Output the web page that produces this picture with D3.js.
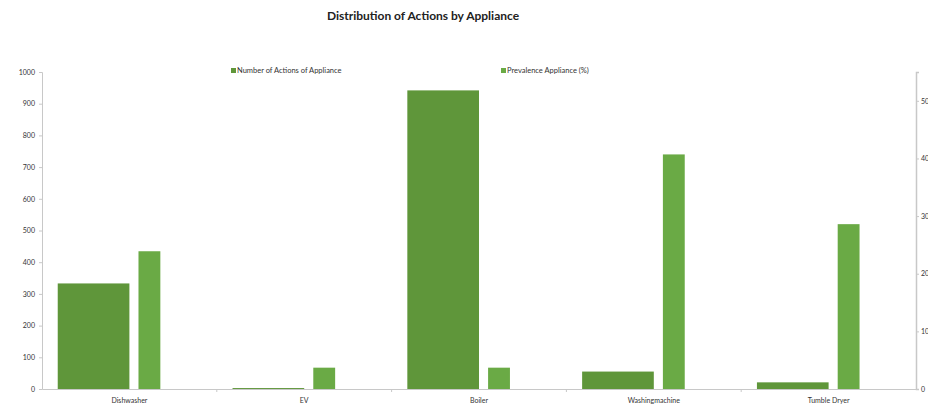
<!DOCTYPE html>
<html>
<head>
<meta charset="utf-8">
<script src="https://cdn.jsdelivr.net/npm/d3@7"></script>
<style>
  body { margin: 0; background: #fff; }
  svg { display: block; font-family: Lato, "Open Sans", sans-serif; }
</style>
</head>
<body>
<div id="chart"></div>
<script>
const appliances = ['Dishwasher', 'EV', 'Boiler', 'Washingmachine', 'Tumble Dryer'];
const actionCounts = [333, 3, 942, 55, 21];
const prevalence = [23.9, 3.7, 3.7, 40.7, 28.6];
const leftTicks = [0, 100, 200, 300, 400, 500, 600, 700, 800, 900, 1000];
const rightTicks = [0, 10, 20, 30, 40, 50];
const seriesNames = ['Number of Actions of Appliance', 'Prevalence Appliance (%)'];

const COUNT_COLOR = '#5f963a';
const PREV_COLOR = '#6aaa45';
const AXIS_COLOR = '#c8c8c8';
const TEXT_COLOR = '#333';

const width = 928;
const height = 407;
const margin = { left: 42, right: 12, top: 72, bottom: 18 };

const svg = d3.select('#chart').append('svg')
  .attr('width', width)
  .attr('height', height);

const x = d3.scaleBand()
  .domain(appliances)
  .range([margin.left, width - margin.right])
  .paddingInner(0)
  .paddingOuter(0);

const y = d3.scaleLinear()
  .domain([0, 1000])
  .range([height - margin.bottom, margin.top]);

const y2 = d3.scaleLinear()
  .domain([0, 55])
  .range([height - margin.bottom, margin.top]);

const bw = x.bandwidth();
const mid = d => x(d) + bw / 2;

// title
svg.append('text')
  .attr('x', 423)
  .attr('y', 20)
  .attr('text-anchor', 'middle')
  .attr('font-size', 12)
  .attr('font-weight', 'bold')
  .attr('fill', '#222')
  .text('Distribution of Actions by Appliance');

// bars: count series on left axis
svg.selectAll('.count')
  .data(appliances)
  .enter()
  .append('rect')
  .attr('class', 'count')
  .attr('x', d => mid(d) - bw * 0.41)
  .attr('width', bw * 0.41)
  .attr('y', (d, i) => y(actionCounts[i]))
  .attr('height', (d, i) => y(0) - y(actionCounts[i]))
  .attr('fill', COUNT_COLOR);

// bars: prevalence series on right axis
svg.selectAll('.prev')
  .data(appliances)
  .enter()
  .append('rect')
  .attr('class', 'prev')
  .attr('x', d => mid(d) + bw * 0.052)
  .attr('width', bw * 0.125)
  .attr('y', (d, i) => y2(prevalence[i]))
  .attr('height', (d, i) => y2(0) - y2(prevalence[i]))
  .attr('fill', PREV_COLOR);

// left axis
const leftAxis = d3.axisLeft(y).tickValues(leftTicks).tickFormat(d3.format('d')).tickSize(3).tickPadding(4);
const gl = svg.append('g')
  .attr('transform', `translate(${margin.left},0)`)
  .call(leftAxis);
gl.select('.domain').attr('stroke', AXIS_COLOR);
gl.selectAll('.tick line').attr('stroke', AXIS_COLOR);
gl.selectAll('.tick text').attr('fill', TEXT_COLOR).attr('font-size', 7).attr('font-family', 'Lato, sans-serif');

// right axis
const rightAxis = d3.axisRight(y2).tickValues(rightTicks).tickFormat(d3.format('d')).tickSize(3).tickPadding(2);
const gr = svg.append('g')
  .attr('transform', `translate(${width - margin.right},0)`)
  .call(rightAxis);
gr.select('.domain').attr('stroke', AXIS_COLOR).attr('stroke-width', 1.5);
gr.selectAll('.tick line').attr('stroke', AXIS_COLOR);
gr.selectAll('.tick text').attr('fill', TEXT_COLOR).attr('font-size', 7).attr('font-family', 'Lato, sans-serif');

// bottom axis
const bottomAxis = d3.axisBottom(x).tickSize(0).tickPadding(9);
const gb = svg.append('g')
  .attr('transform', `translate(0,${y(0)})`)
  .call(bottomAxis);
gb.select('.domain').attr('stroke', AXIS_COLOR);
gb.selectAll('.tick text').attr('fill', TEXT_COLOR).attr('font-size', 7).attr('font-family', 'Lato, sans-serif');

// category separators on x axis
svg.selectAll('.sep')
  .data(appliances.slice(1))
  .enter()
  .append('line')
  .attr('class', 'sep')
  .attr('x1', d => x(d))
  .attr('x2', d => x(d))
  .attr('y1', y(0))
  .attr('y2', y(0) + 3)
  .attr('stroke', AXIS_COLOR);

// legend
const legendX = [231, 501];
const legend = svg.selectAll('.legend')
  .data(seriesNames)
  .enter()
  .append('g')
  .attr('class', 'legend')
  .attr('transform', (d, i) => `translate(${legendX[i]},71)`);

legend.append('rect')
  .attr('x', 0)
  .attr('y', -3)
  .attr('width', 5)
  .attr('height', 5)
  .attr('fill', (d, i) => i == 0 ? COUNT_COLOR : PREV_COLOR);

legend.append('text')
  .attr('x', 6)
  .attr('y', 2)
  .attr('font-size', 7.5)
  .attr('fill', TEXT_COLOR)
  .text(d => d);
</script>
</body>
</html>
